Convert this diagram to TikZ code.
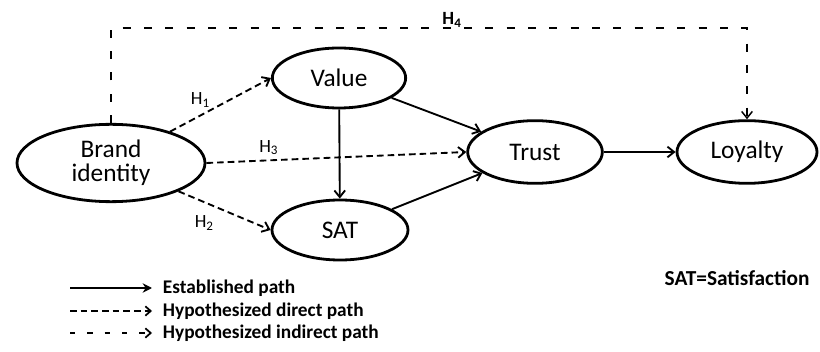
\documentclass[tikz,border=0pt]{standalone}
\usepackage{fontspec}
\setmainfont{Carlito}
\usepackage{tikz}
\usetikzlibrary{arrows.meta,positioning,shapes.geometric}

\begin{document}
\begin{tikzpicture}[
   x=0.75pt,y=-0.75pt,
   construct/.style={draw,ellipse,line width=2.1pt,inner sep=0pt,align=center,
                     font=\fontsize{19}{18}\selectfont},
   arr/.style={-{Straight Barb[length=5pt,width=8pt]},line width=1.4pt},
   direct/.style={arr,dash pattern=on 5pt off 3pt},
   indirect/.style={arr,line width=1.1pt,dash pattern=on 6pt off 10pt},
   hyp/.style={font=\fontsize{14}{14}\selectfont},
   legend/.style={anchor=west,inner xsep=8pt,font=\fontsize{14.5}{14.5}\selectfont\bfseries}
 ]
  \useasboundingbox (0,0) rectangle (820,352);
  % constructs
  \node[construct,minimum width=141pt,minimum height=58pt] (brand) at (111,163) {Brand\\identity};
  \node[construct,minimum width=100pt,minimum height=45pt] (value) at (339,78) {Value};
  \node[construct,minimum width=102pt,minimum height=45pt] (sat) at (340,230) {SAT};
  \node[construct,minimum width=101pt,minimum height=47pt] (trust) at (535,152) {Trust};
  \node[construct,minimum width=105pt,minimum height=47pt] (loyalty) at (747,152) {Loyalty};
  % established paths
  \draw[arr] (value) -- (sat);
  \draw[arr] (value) -- (trust);
  \draw[arr] (sat) -- (trust);
  \draw[arr] (trust) -- (loyalty);
  % hypotheses
  \draw[direct] (brand) -- (value.west) node[hyp,pos=0.3,above=2pt] (h1) {H\textsubscript{1}};
  \draw[direct] (brand) -- (sat.west) node[hyp,pos=0.28,below=6pt] (h2) {H\textsubscript{2}};
  \draw[direct] (brand.east) -- (trust.west) node[hyp,pos=0.24,above] (h3) {H\textsubscript{3}};
  \draw[indirect] (brand.north) -- ++(0,-95) -| (loyalty.north);
  \node[hyp,font=\fontsize{14}{14}\selectfont\bfseries] (h4) at (452,20) {H\textsubscript{4}};
  % legend
  \node[legend] (est) at (152,288) {Established path};
  \node[legend] (dir) at (152,311) {Hypothesized direct path};
  \node[legend] (ind) at (152,333) {Hypothesized indirect path};
  \coordinate (est0) at (70,288);
  \coordinate (dir0) at (70,311);
  \coordinate (ind0) at (70,333);
  \draw[-{Stealth[length=7pt,width=7pt]},line width=1.5pt] (est0) -- (est.west);
  \draw[-{Straight Barb[length=4pt,width=7pt]},line width=1.3pt,dash pattern=on 5pt off 3pt] (dir0) -- (dir.west);
  \draw[-{Straight Barb[length=4pt,width=7pt]},line width=1.3pt,dash pattern=on 4pt off 9pt] (ind0) -- (ind.west);
  \node[anchor=west,font=\fontsize{16}{16}\selectfont\bfseries] (note) at (660,278) {SAT=Satisfaction};
\end{tikzpicture}
\end{document}
